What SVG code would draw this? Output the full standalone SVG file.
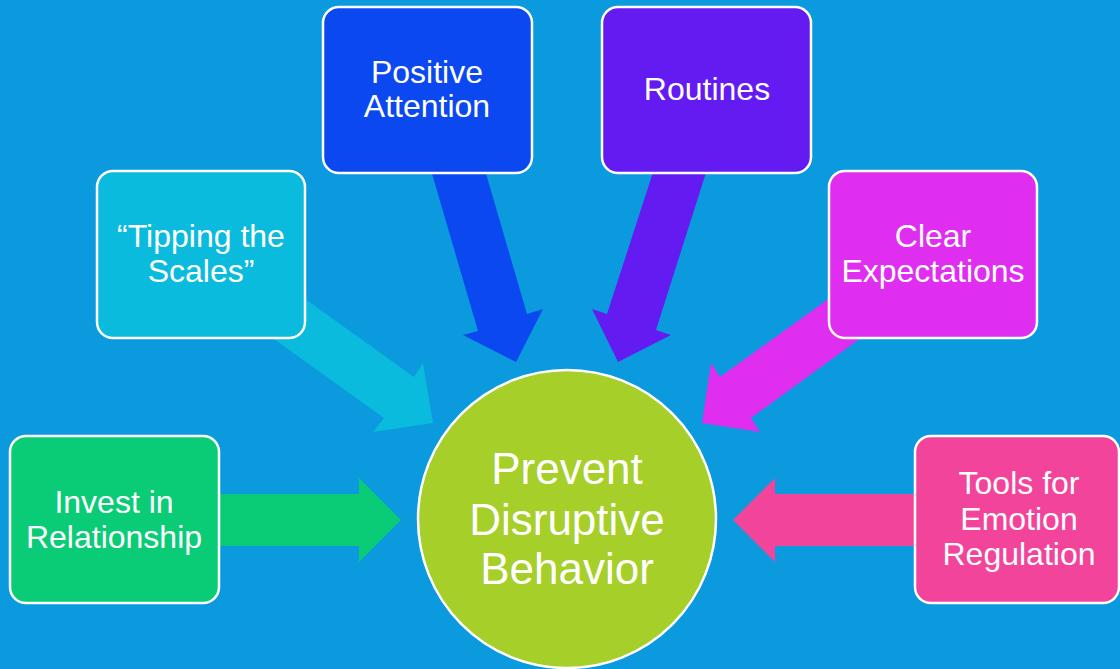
<svg xmlns="http://www.w3.org/2000/svg" width="1120" height="669" viewBox="0 0 1120 669">
  <style>
    .box { stroke: #ffffff; stroke-width: 2.5; }
    .lbl { font-family: "Liberation Sans", Arial, sans-serif; font-size: 32px; fill: #ffffff; text-anchor: middle; }
    .hub { font-family: "Liberation Sans", Arial, sans-serif; font-size: 44px; fill: #ffffff; text-anchor: middle; }
  </style>
  <rect width="1120" height="669" fill="#0A9ADD"/>

  <!-- block arrows pointing to the centre -->
  <g id="connectors">
    <polygon fill="#0ACC76" points="200,494 359,494 359,478 401,520 359,562 359,546 200,546"/>
    <polygon fill="#0BBBDD" points="280,281 414,377 423,363 433,423 373,432 384,418 250,322"/>
    <polygon fill="#0B48F0" points="428,160 482,160 527,314 543,309 516,362 463,335 478,331"/>
    <polygon fill="#631BF1" points="657,160 710,160 656,330 671,335 618,362 592,309 607,314"/>
    <polygon fill="#E02EF0" points="845,287 720,377 711,363 702,423 760,432 751,418 880,324"/>
    <polygon fill="#F3449B" points="930,494 775,494 775,478 733,520 775,562 775,546 930,546"/>
  </g>

  <g id="hub">
    <circle cx="567" cy="519" r="149" fill="#A6CF29" stroke="#ffffff" stroke-width="2.5"/>
    <text class="hub" x="567" y="484">Prevent</text>
    <text class="hub" x="567" y="535">Disruptive</text>
    <text class="hub" x="567" y="584">Behavior</text>
  </g>

  <g id="invest">
    <rect class="box" x="10" y="436" width="209" height="167" rx="16" fill="#0ACC76"/>
    <text class="lbl" x="114" y="513">Invest in</text>
    <text class="lbl" x="114" y="548">Relationship</text>
  </g>

  <g id="tipping">
    <rect class="box" x="97" y="171" width="208" height="167" rx="16" fill="#0BBBDD"/>
    <text class="lbl" x="201" y="247">“Tipping the</text>
    <text class="lbl" x="201" y="282">Scales”</text>
  </g>

  <g id="attention">
    <rect class="box" x="323" y="7" width="209" height="166" rx="16" fill="#0B48F0"/>
    <text class="lbl" x="427" y="83">Positive</text>
    <text class="lbl" x="427" y="117">Attention</text>
  </g>

  <g id="routines">
    <rect class="box" x="602" y="7" width="209" height="166" rx="16" fill="#631BF1"/>
    <text class="lbl" x="707" y="100">Routines</text>
  </g>

  <g id="expectations">
    <rect class="box" x="829" y="171" width="208" height="167" rx="16" fill="#E02EF0"/>
    <text class="lbl" x="933" y="247">Clear</text>
    <text class="lbl" x="933" y="282">Expectations</text>
  </g>

  <g id="tools">
    <rect class="box" x="915" y="436" width="204" height="167" rx="16" fill="#F3449B"/>
    <text class="lbl" x="1019" y="494">Tools for</text>
    <text class="lbl" x="1019" y="530">Emotion</text>
    <text class="lbl" x="1019" y="565">Regulation</text>
  </g>
</svg>
